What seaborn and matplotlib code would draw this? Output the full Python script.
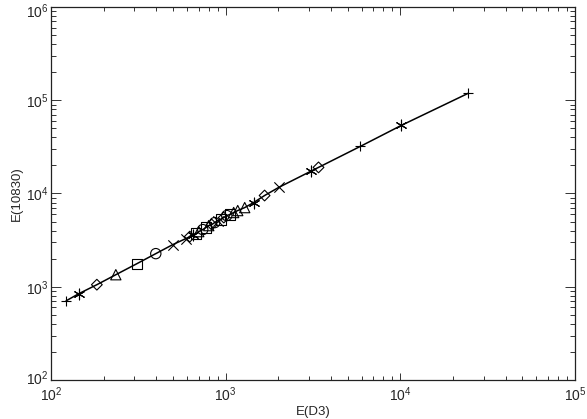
import numpy as np
import pandas as pd
import matplotlib
matplotlib.use('Agg')
import matplotlib.pyplot as plt
import matplotlib.transforms as mtrans
import seaborn as sns
from matplotlib.ticker import LogLocator, NullFormatter

sns.set_style('ticks')
plt.rcParams['font.family'] = ['Liberation Sans', 'DejaVu Sans']

# values
e_d3 = [122, 144, 183, 235, 310, 398, 498,
        591, 623, 648, 674, 701, 739, 769, 800, 832, 865, 900, 936, 975,
        1014, 1054, 1111, 1172, 1285, 1446, 1670, 2010, 3060, 3400,
        5900, 10140, 24500]
e_10830 = [706, 841, 1052, 1346, 1766, 2265, 2831,
           3281, 3449, 3622, 3715, 3902, 4100, 4305, 4525, 4641, 4875, 5125, 5250, 5520,
           5800, 5940, 6250, 6560, 7060, 8000, 9510, 11610, 17260, 19050,
           32000, 53800, 118900]
sym = ['plus', 'star', 'diamond', 'triangle', 'square', 'circle', 'cross',
       'cross', 'diamond', 'star', 'square', 'triangle', 'circle', 'square', 'triangle',
       'diamond', 'circle', 'cross', 'square', 'diamond',
       'circle', 'square', 'triangle', 'triangle', 'triangle', 'star', 'diamond', 'cross',
       'star', 'diamond', 'plus', 'star', 'plus']

df = pd.DataFrame({'E(D3)': e_d3, 'E(10830)': e_10830, 'sym': sym})

marker_map = {'plus': '+', 'star': (6, 2, 0), 'diamond': 'D', 'triangle': '^',
              'square': 's', 'circle': 'o', 'cross': 'x'}
size_map = {'plus': 60, 'star': 60, 'diamond': 30, 'triangle': 55,
            'square': 55, 'circle': 55, 'cross': 55}

fig = plt.figure(figsize=(5.87, 4.19), dpi=100)
ax = fig.add_axes([0.0869, 0.0931, 0.8927, 0.8902])

# connecting line
sns.lineplot(data=df, x='E(D3)', y='E(10830)', sort=True, color='black',
             lw=1.1, ax=ax, estimator=None)

for s, g in df.groupby('sym'):
    m = marker_map[s]
    filled = s in ('plus', 'cross', 'star')
    ax.scatter(g['E(D3)'], g['E(10830)'], marker=m, s=size_map[s],
               facecolors='black' if filled else 'none', edgecolors='black',
               linewidths=0.8, zorder=3)

ax.set_xscale('log')
ax.set_yscale('log')
ax.set_xlim(1e2, 1e5)
ax.set_ylim(1e2, 1e6)
ax.set_xlabel('E(D3)', fontsize=9.5, labelpad=1)
ax.set_ylabel('E(10830)', fontsize=9.5, labelpad=2)

for a in (ax.xaxis, ax.yaxis):
    a.set_major_locator(LogLocator(base=10, numticks=10))
    a.set_minor_locator(LogLocator(base=10, subs=np.arange(2, 10), numticks=10))
    a.set_minor_formatter(NullFormatter())

ax.tick_params(which='both', direction='in', top=True, right=True,
               width=0.7, labelsize=10, color='#333333')
ax.tick_params(axis='x', which='major', length=5.4, pad=4)
ax.tick_params(axis='x', which='minor', length=2.7)
ax.tick_params(axis='y', which='major', length=7.5, pad=2)
ax.tick_params(axis='y', which='minor', length=3.8)
for sp in ax.spines.values():
    sp.set_linewidth(0.9)
    sp.set_color('#222222')

# IDL-ish placement: bottom y label sits a bit up, top one a bit down
fig.canvas.draw()
for loc, tick in zip(ax.yaxis.get_majorticklocs(), ax.yaxis.get_major_ticks()):
    dy = 0
    if np.isclose(loc, 1e2):
        dy = 3
    elif np.isclose(loc, 1e6):
        dy = -3
    if dy:
        lab = tick.label1
        lab.set_transform(lab.get_transform() +
                          mtrans.ScaledTranslation(0, dy / 100, fig.dpi_scale_trans))

fig.savefig('out.png', dpi=100, facecolor='white')
